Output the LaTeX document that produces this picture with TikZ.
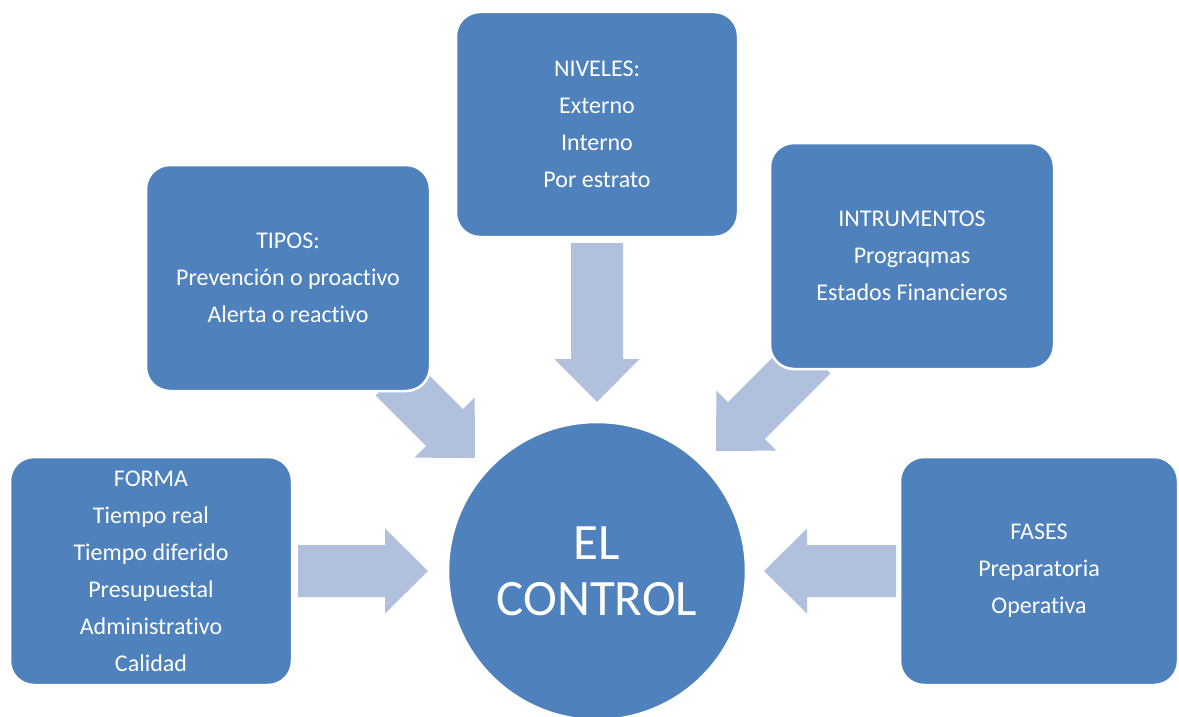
\documentclass[tikz,border=0pt]{standalone}
\usepackage{fontspec}
\setmainfont{Carlito}[Ligatures=NoCommon]
\usetikzlibrary{calc}

\definecolor{boxblue}{RGB}{79,129,189}
\definecolor{flowblue}{RGB}{177,193,221}

% block arrow dimensions
\newcommand\flowHeadLen{43pt}
\newcommand\flowHeadHalf{42.5pt}
\newcommand\flowBodyHalf{26pt}

% wide block arrow from #1 (tail centre) to #2 (tip)
\newcommand\flowarrow[2]{%
  \fill[flow] let \p1=(#1), \p2=(#2),
      \n1={atan2(\y2-\y1,\x2-\x1)},
      \n2={veclen(\x2-\x1,\y2-\y1)-\flowHeadLen}
    in (\p1) ++({\n1+90}:\flowBodyHalf)
       -- ++(\n1:\n2)
       -- ++({\n1+90}:{\flowHeadHalf-\flowBodyHalf})
       -- (\p2)
       -- ($(\p1)+(\n1:\n2)+({\n1-90}:\flowHeadHalf)$)
       -- ++({\n1+90}:{\flowHeadHalf-\flowBodyHalf})
       -- ++({\n1+180}:\n2)
       -- cycle;}

\tikzset{
  topic/.style={rectangle, rounded corners=24pt, fill=boxblue, draw=white,
    line width=2.5pt, text=white, align=center, inner sep=0pt,
    font=\fontsize{24}{37}\selectfont},
  hub/.style={circle, fill=boxblue, draw=white, line width=2.5pt,
    text=white, align=center, inner sep=0pt, minimum size=298pt,
    font=\fontsize{51}{56}\selectfont},
  flow/.style={fill=flowblue}
}

\begin{document}
\begin{tikzpicture}[x=1pt,y=-1pt]
  \useasboundingbox (0,0) rectangle (1179,717);

  % arrow end points
  \coordinate (formaTail) at (298,571);
  \coordinate (formaTip)  at (428,571);
  \coordinate (nivTail)   at (597,243);
  \coordinate (nivTip)    at (597,402);
  \coordinate (fasesTail) at (896,571);
  \coordinate (fasesTip)  at (764,571);
  \coordinate (tiposTail) at (394,377);
  \coordinate (tiposTip)  at (475,458);
  \coordinate (instTail)  at (812,355);
  \coordinate (instTip)   at (716,451);

  % arrows sit underneath the boxes
  \flowarrow{formaTail}{formaTip}
  \flowarrow{nivTail}{nivTip}
  \flowarrow{fasesTail}{fasesTip}
  \flowarrow{tiposTail}{tiposTip}
  \flowarrow{instTail}{instTip}

  % central circle
  \node[hub] (ctl) at (597,571) {EL\\CONTROL};

  % surrounding boxes
  \node[topic, minimum width=282pt, minimum height=228pt] (forma) at (151,571)
    {FORMA\\Tiempo real\\Tiempo diferido\\Presupuestal\\Administrativo\\Calidad};
  \node[topic, minimum width=284pt, minimum height=226pt] (tipos) at (288,278)
    {TIPOS:\\Prevención o proactivo\\Alerta o reactivo};
  \node[topic, minimum width=282pt, minimum height=225pt] (niveles) at (597,124.5)
    {NIVELES:\\Externo\\Interno\\Por estrato};
  \node[topic, minimum width=284pt, minimum height=226pt] (inst) at (912,256)
    {INTRUMENTOS\\Prograqmas\\Estados Financieros};
  \node[topic, minimum width=278pt, minimum height=228pt] (fases) at (1039,571)
    {FASES\\Preparatoria\\Operativa};
\end{tikzpicture}
\end{document}
